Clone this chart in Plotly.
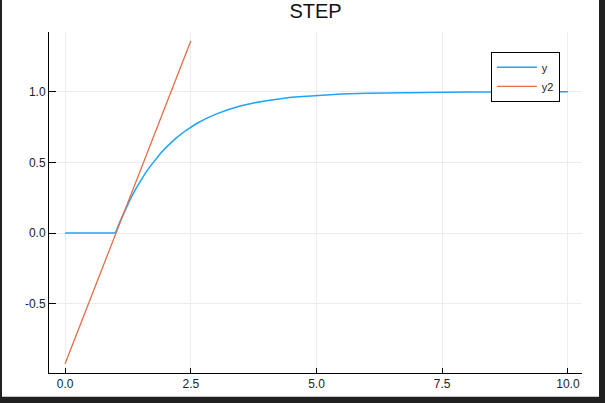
import plotly.graph_objects as go

# Step response
t = [0.0, 0.5, 1.0, 1.1, 1.2, 1.3, 1.4, 1.5, 1.6, 1.7, 1.8, 1.9, 2.0, 2.2, 2.4,
     2.6, 2.8, 3.0, 3.25, 3.5, 3.75, 4.0, 4.5, 5.0, 5.5, 6.0, 7.0, 8.0, 9.0, 10.0]
y = [0.0, 0.0, 0.0, 0.088, 0.169, 0.242, 0.309, 0.370, 0.426, 0.476, 0.523, 0.565,
     0.603, 0.670, 0.726, 0.772, 0.810, 0.842, 0.875, 0.901, 0.921, 0.937, 0.961,
     0.975, 0.984, 0.990, 0.996, 0.998, 0.999, 1.0]

# Tangent line
t2 = [0.0, 2.5]
y2 = [-0.925, 1.36]

x_ticks = [0.0, 2.5, 5.0, 7.5, 10.0]
x_ticklabels = ["0.0", "2.5", "5.0", "7.5", "10.0"]
y_ticks = [-0.5, 0.0, 0.5, 1.0]
y_ticklabels = ["-0.5", "0.0", "0.5", "1.0"]

BLUE = "#1FA5F8"
ORANGE = "#E36F47"
FONT = "Liberation Sans, Arial, sans-serif"

fig = go.Figure()
fig.add_trace(go.Scatter(x=t, y=y, mode="lines", name="y",
                         line=dict(color=BLUE, width=1.5)))
fig.add_trace(go.Scatter(x=t2, y=y2, mode="lines", name="y2",
                         line=dict(color=ORANGE, width=1.3)))

axis_common = dict(
    showgrid=True, gridcolor="#ececec", gridwidth=1,
    zeroline=False, showline=True, linecolor="#000000", linewidth=1,
    ticks="inside", tickcolor="#000000", tickwidth=1,
    tickfont=dict(family=FONT, size=12, color="#222222"),
    mirror=False,
)

fig.update_layout(
    width=605, height=403,
    margin=dict(l=49, r=23, t=32, b=27),
    paper_bgcolor="#ffffff", plot_bgcolor="#ffffff",
    title=dict(text="STEP", x=0.5216, xanchor="center", y=0.972, yanchor="middle",
               font=dict(family=FONT, size=20, color="#111111")),
    xaxis=dict(range=[-0.32, 10.28], tickvals=x_ticks, ticktext=x_ticklabels,
               ticklen=5, **axis_common),
    yaxis=dict(range=[-0.99, 1.423], tickvals=y_ticks, ticktext=y_ticklabels,
               ticklen=7, **axis_common),
    showlegend=True,
    legend=dict(x=0.829, y=0.942, xanchor="left", yanchor="top",
                bgcolor="#ffffff", bordercolor="#000000", borderwidth=1,
                font=dict(family=FONT, size=11, color="#222222"),
                itemwidth=40, tracegroupgap=0, entrywidth=70, entrywidthmode="pixels"),
    shapes=[
        dict(type="rect", xref="paper", yref="paper", x0=-0.2, x1=-0.0882, y0=-0.3, y1=1.2,
             fillcolor="#202020", line=dict(width=0), layer="above"),
        dict(type="rect", xref="paper", yref="paper", x0=1.0319, x1=1.2, y0=-0.3, y1=1.2,
             fillcolor="#202020", line=dict(width=0), layer="above"),
        dict(type="rect", xref="paper", yref="paper", x0=-0.2, x1=1.2, y0=-0.3, y1=-0.07,
             fillcolor="#202020", line=dict(width=0), layer="above"),
    ],
)

fig.write_html("out.html", config={"displayModeBar": False},
               post_script="document.body.style.margin='0';document.body.style.overflow='hidden';")
